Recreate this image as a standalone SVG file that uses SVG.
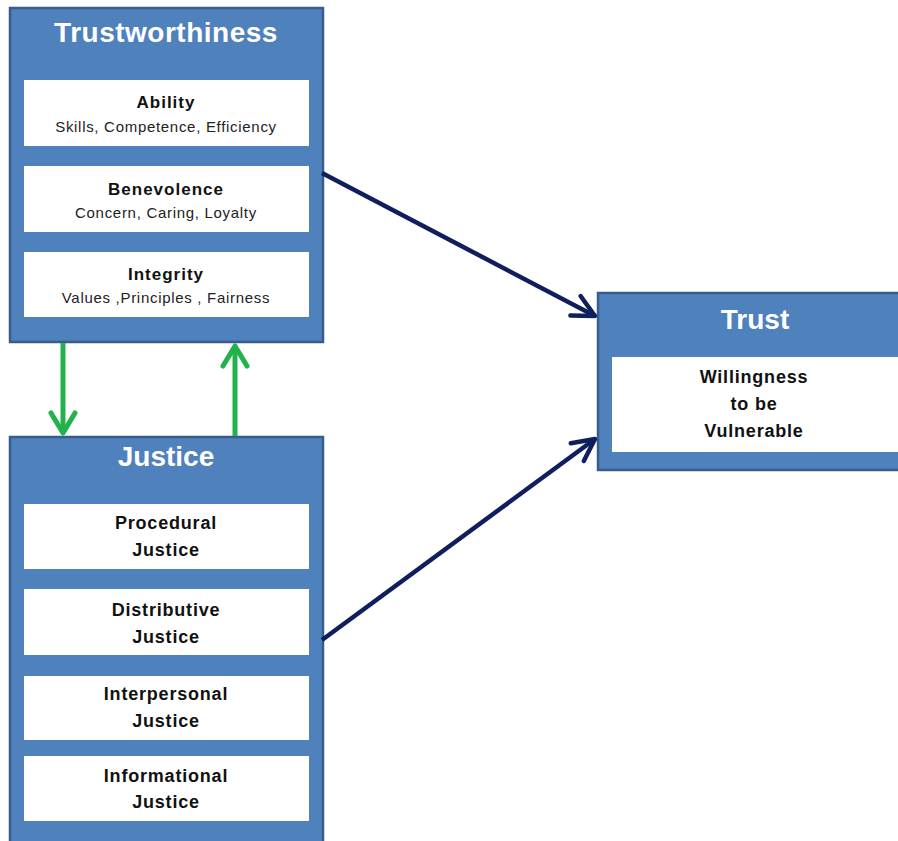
<svg xmlns="http://www.w3.org/2000/svg" width="898" height="841" viewBox="0 0 898 841">
<style>
.box{fill:#4f81bd;stroke:#385d8a;stroke-width:2.5}
.inner{fill:#ffffff}
.title{font-family:"Liberation Sans",Arial,sans-serif;font-weight:bold;font-size:28px;fill:#ffffff;text-anchor:middle}
.head{font-family:"Liberation Sans",Arial,sans-serif;font-weight:bold;font-size:17px;letter-spacing:1px;fill:#111111;text-anchor:middle}
.sub{font-family:"Liberation Sans",Arial,sans-serif;font-size:15px;letter-spacing:0.7px;fill:#222222;text-anchor:middle}
.item{font-family:"Liberation Sans",Arial,sans-serif;font-weight:bold;font-size:18px;letter-spacing:0.8px;fill:#111111;text-anchor:middle}
.navy{stroke:#0f1f5e;stroke-width:4.5;fill:none}
.green{stroke:#22b24c;stroke-width:5;fill:none}
</style>
<defs>
<marker id="navyHead" markerUnits="userSpaceOnUse" markerWidth="40" markerHeight="40" viewBox="-30 -20 40 40" refX="0" refY="0" orient="auto" overflow="visible">
<path d="M-22,-11 L0,0 L-22,11" fill="none" stroke="#0f1f5e" stroke-width="4.5" stroke-linecap="round" stroke-linejoin="round"/>
</marker>
<marker id="greenHead" markerUnits="userSpaceOnUse" markerWidth="40" markerHeight="40" viewBox="-30 -20 40 40" refX="0" refY="0" orient="auto" overflow="visible">
<path d="M-20,-12 L0,0 L-20,12" fill="none" stroke="#22b24c" stroke-width="5" stroke-linecap="round" stroke-linejoin="round"/>
</marker>
</defs>
<rect width="898" height="841" fill="#ffffff"/>

<g id="trustworthiness">
<rect class="box" x="10" y="8" width="313" height="334"/>
<text class="title" x="166" y="42" style="letter-spacing:0.5px">Trustworthiness</text>
<rect class="inner" x="24" y="80" width="285" height="66"/>
<text class="head" x="166" y="108">Ability</text>
<text class="sub" x="166" y="132">Skills, Competence, Efficiency</text>
<rect class="inner" x="24" y="166" width="285" height="66"/>
<text class="head" x="166" y="195">Benevolence</text>
<text class="sub" x="166" y="218">Concern, Caring,  Loyalty</text>
<rect class="inner" x="24" y="252" width="285" height="65"/>
<text class="head" x="166" y="280">Integrity</text>
<text class="sub" x="166" y="303">Values ,Principles , Fairness</text>
</g>

<g id="justice">
<rect class="box" x="10" y="437" width="313" height="420"/>
<text class="title" x="166" y="466">Justice</text>
<rect class="inner" x="24" y="504" width="285" height="65"/>
<text class="item" x="166" y="529">Procedural</text>
<text class="item" x="166" y="556">Justice</text>
<rect class="inner" x="24" y="589" width="285" height="66"/>
<text class="item" x="166" y="616">Distributive</text>
<text class="item" x="166" y="643">Justice</text>
<rect class="inner" x="24" y="676" width="285" height="64"/>
<text class="item" x="166" y="700">Interpersonal</text>
<text class="item" x="166" y="727">Justice</text>
<rect class="inner" x="24" y="756" width="285" height="65"/>
<text class="item" x="166" y="782">Informational</text>
<text class="item" x="166" y="808">Justice</text>
</g>

<g id="trust">
<rect class="box" x="598" y="293" width="320" height="177"/>
<text class="title" x="755" y="329">Trust</text>
<rect class="inner" x="612" y="357" width="290" height="95"/>
<text class="item" x="754" y="383">Willingness</text>
<text class="item" x="754" y="410">to be</text>
<text class="item" x="754" y="437">Vulnerable</text>
</g>

<g id="connectors">
<line class="navy" x1="322" y1="173" x2="595" y2="316" marker-end="url(#navyHead)"/>
<line class="navy" x1="322" y1="640" x2="595" y2="439" marker-end="url(#navyHead)"/>
<line class="green" x1="63" y1="343" x2="63" y2="433" marker-end="url(#greenHead)"/>
<line class="green" x1="235" y1="436" x2="235" y2="346" marker-end="url(#greenHead)"/>
</g>
</svg>
